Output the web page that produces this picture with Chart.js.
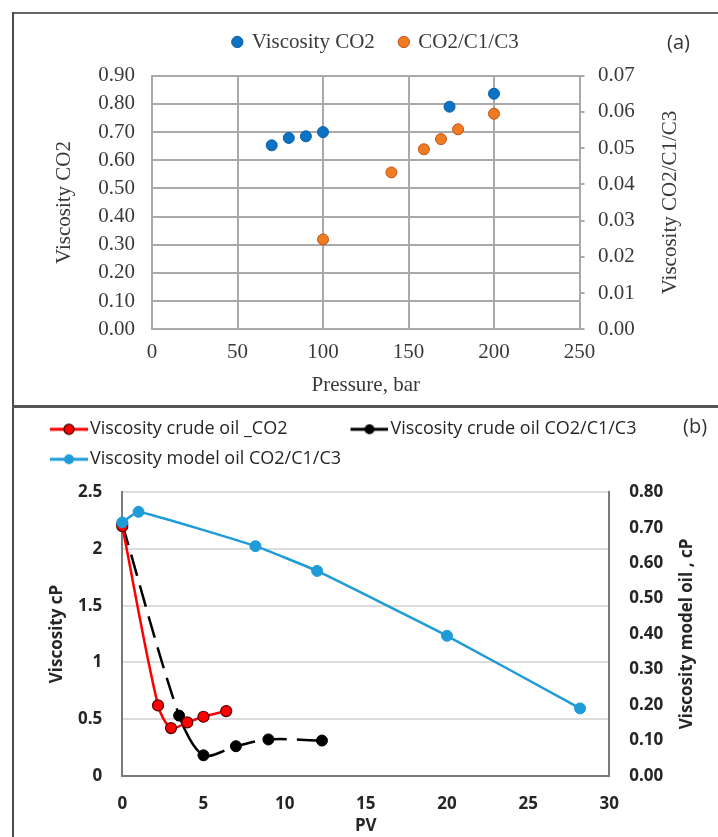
<!DOCTYPE html>
<html>
<head>
<meta charset="utf-8">
<script src="https://cdn.jsdelivr.net/npm/chart.js@4.4.1/dist/chart.umd.min.js"></script>
<style>
  html, body { margin: 0; padding: 0; background: #ffffff; }
  #wrap { position: relative; width: 718px; height: 837px; overflow: hidden; background: #fff; }
  canvas { position: absolute; left: 0; }
  .line { position: absolute; background: #555; }
  .tag { position: absolute; font-family: "Open Sans", sans-serif; font-size: 20px; color: #333; line-height: 1; }
</style>
</head>
<body>
<div id="wrap">
  <canvas id="chartA" width="718" height="405" style="top:0px"></canvas>
  <canvas id="chartB" width="718" height="431" style="top:406px"></canvas>
  <div class="line" style="left:12px; top:12px; width:706px; height:2px; background:#666;"></div>
  <div class="line" style="left:12px; top:12px; width:2px; height:825px; background:#4a4a4a;"></div>
  <div class="line" style="left:12px; top:405px; width:706px; height:3px; background:#555;"></div>
  <div class="tag" style="left:667px; top:32px;">(a)</div>
  <div class="tag" style="left:683px; top:416px;">(b)</div>
</div>
<script>
// ---------- Data (a): viscosity vs pressure ----------
const pressureCO2   = [70, 80, 90, 100, 174, 200];
const viscosityCO2  = [0.653, 0.679, 0.685, 0.700, 0.790, 0.836];
const pressureMix   = [100, 140, 159, 169, 179, 200];
const viscosityMix  = [0.0248, 0.0433, 0.0497, 0.0525, 0.0552, 0.0595];

// ---------- Data (b): viscosity vs PV ----------
const pvCrudeCO2    = [0, 2.2, 3, 4, 5, 6.4];
const viscCrudeCO2  = [2.2, 0.62, 0.42, 0.47, 0.52, 0.57];
const pvCrudeMix    = [0, 3.5, 5, 7, 9, 12.3];
const viscCrudeMix  = [2.22, 0.53, 0.18, 0.26, 0.32, 0.31];
const pvModelMix    = [0, 1, 8.2, 12, 20, 28.2];
const viscModelMix  = [0.715, 0.745, 0.648, 0.578, 0.395, 0.19];

const labelsA = ['Viscosity CO2', 'CO2/C1/C3'];
const labelsB = ['Viscosity crude oil _CO2', 'Viscosity crude oil CO2/C1/C3', 'Viscosity model oil CO2/C1/C3'];
const titlesA = { x: 'Pressure, bar', y: 'Viscosity CO2', y1: 'Viscosity CO2/C1/C3' };
const titlesB = { x: 'PV', y: 'Viscosity cP', y1: 'Viscosity model oil , cP' };

const toPoints = (xs, ys) => xs.map((x, i) => ({x: x, y: ys[i]}));

// Plugin: fixes the legend box height and shifts it horizontally
const legendTweak = {
  id: 'legendTweak',
  beforeLayout(chart, args, opts) {
    const lg = chart.legend;
    if (lg && !lg.__fixed) {
      const orig = lg.fit.bind(lg);
      lg.fit = function () { orig(); if (opts && opts.height) this.height = opts.height; };
      lg.__fixed = true;
    }
  },
  afterLayout(chart, args, opts) {
    const lg = chart.legend;
    if (lg && opts && opts.shiftX) { lg.left += opts.shiftX; lg.right += opts.shiftX; }
  }
};

// Plugin: right-hand axis title reading bottom-to-top
const sideTitle = {
  id: 'sideTitle',
  afterDraw(chart, args, opts) {
    if (!opts || !opts.text) return;
    const {ctx, chartArea} = chart;
    ctx.save();
    ctx.translate(opts.x, (chartArea.top + chartArea.bottom) / 2);
    ctx.rotate(-Math.PI / 2);
    ctx.font = opts.font;
    ctx.fillStyle = opts.color;
    ctx.textAlign = 'center';
    ctx.textBaseline = 'middle';
    ctx.fillText(opts.text, 0, 0);
    ctx.restore();
  }
};

// ---------- Chart (a) ----------
const serif = '"Liberation Serif", "Times New Roman", serif';
const gridGrey = '#a9a9a9';
const txtA = '#3a3a3a';

new Chart(document.getElementById('chartA'), {
  type: 'scatter',
  data: {
    datasets: [
      {
        label: labelsA[0],
        data: toPoints(pressureCO2, viscosityCO2),
        yAxisID: 'y',
        backgroundColor: '#0b72c4',
        borderColor: '#0a5ea6',
        borderWidth: 1,
        pointRadius: 5.5,
        pointStyle: 'circle',
        clip: false
      },
      {
        label: labelsA[1],
        data: toPoints(pressureMix, viscosityMix),
        yAxisID: 'y1',
        backgroundColor: '#ef7b22',
        borderColor: '#c2531a',
        borderWidth: 1,
        pointRadius: 5.5,
        pointStyle: 'circle',
        clip: false
      }
    ]
  },
  options: {
    responsive: false,
    animation: false,
    devicePixelRatio: 1,
    layout: { padding: { top: 6.5, left: 44, right: 0, bottom: 0 } },
    plugins: {
      legendTweak: { height: 69.2, shiftX: -5 },
      sideTitle: { text: titlesA.y1, x: 670, font: '21px ' + serif, color: txtA },
      tooltip: { enabled: false },
      legend: {
        display: true,
        position: 'top',
        align: 'center',
        labels: {
          usePointStyle: true,
          boxWidth: 8,
          boxHeight: 8,
          padding: 25,
          color: txtA,
          font: { family: serif, size: 21 }
        }
      }
    },
    scales: {
      x: {
        type: 'linear',
        min: 0, max: 250,
        afterFit: s => { s.height = 75.7; },
        ticks: { stepSize: 50, autoSkip: false, maxRotation: 0, padding: 11, color: txtA, font: { family: serif, size: 21 } },
        grid: { display: true, color: gridGrey, lineWidth: 2, drawTicks: false },
        border: { display: true, color: gridGrey, width: 2 },
        title: { display: true, text: titlesA.x, color: txtA, font: { family: serif, size: 21 }, padding: { top: 0, bottom: 7.4 } }
      },
      y: {
        type: 'linear',
        position: 'left',
        min: 0, max: 0.9,
        afterFit: s => { s.width = 108; },
        ticks: { stepSize: 0.1, autoSkip: false, padding: 17, color: txtA, font: { family: serif, size: 21 }, callback: v => Number(v).toFixed(2) },
        grid: { display: true, color: gridGrey, lineWidth: 2, drawTicks: false },
        border: { display: true, color: gridGrey, width: 2 },
        title: { display: true, text: titlesA.y, color: txtA, font: { family: serif, size: 21 }, padding: { top: 7.4, bottom: 0 } }
      },
      y1: {
        type: 'linear',
        position: 'right',
        min: 0, max: 0.07,
        afterFit: s => { s.width = 138.5; },
        ticks: { stepSize: 0.01, autoSkip: false, padding: 13.5, color: txtA, font: { family: serif, size: 21 }, callback: v => Number(v).toFixed(2) },
        grid: { display: true, drawOnChartArea: false, drawTicks: true, tickLength: 5, color: gridGrey, lineWidth: 2 },
        border: { display: true, color: gridGrey, width: 2 },
        title: { display: false }
      }
    }
  },
  plugins: [legendTweak, sideTitle]
});

// ---------- Chart (b) ----------
const sans = '"Open Sans", "Noto Sans", sans-serif';
const txtB = '#262626';
const colRed = '#ff0000', colBlack = '#000000', colBlue = '#1f9bd7';

// legend marker: line with a dot, placed at the right of a wide transparent image
function legendMarker(color, border) {
  const c = document.createElement('canvas');
  c.width = 96; c.height = 14;
  const g = c.getContext('2d');
  g.strokeStyle = color; g.lineWidth = 3;
  g.beginPath(); g.moveTo(58, 7); g.lineTo(96, 7); g.stroke();
  g.beginPath(); g.arc(77, 7, 5, 0, Math.PI * 2);
  g.fillStyle = color; g.fill();
  if (border) { g.lineWidth = 1.5; g.strokeStyle = border; g.stroke(); }
  return c;
}
const markers = [legendMarker(colRed, '#550000'), legendMarker(colBlack, null), legendMarker(colBlue, null)];
const fmtB = v => String(Number(Number(v).toFixed(2)));

new Chart(document.getElementById('chartB'), {
  type: 'line',
  data: {
    datasets: [
      {
        label: labelsB[0],
        data: toPoints(pvCrudeCO2, viscCrudeCO2),
        yAxisID: 'y',
        borderColor: colRed,
        backgroundColor: colRed,
        pointBackgroundColor: colRed,
        pointBorderColor: '#550000',
        pointBorderWidth: 1.2,
        pointRadius: 5.5,
        borderWidth: 2.5,
        tension: 0.3,
        fill: false,
        clip: false,
        order: 1
      },
      {
        label: labelsB[1],
        data: toPoints(pvCrudeMix, viscCrudeMix),
        yAxisID: 'y',
        borderColor: colBlack,
        backgroundColor: colBlack,
        pointBackgroundColor: colBlack,
        pointBorderColor: colBlack,
        pointBorderWidth: 1,
        pointRadius: 5.5,
        borderWidth: 2.5,
        tension: 0.3,
        fill: false,
        clip: false,
        order: 2,
        segment: { borderDash: ctx => (ctx.p0DataIndex === 1 ? [] : [22, 10]) }
      },
      {
        label: labelsB[2],
        data: toPoints(pvModelMix, viscModelMix),
        yAxisID: 'y1',
        borderColor: colBlue,
        backgroundColor: colBlue,
        pointBackgroundColor: colBlue,
        pointBorderColor: colBlue,
        pointBorderWidth: 1,
        pointRadius: 5.5,
        borderWidth: 2.5,
        tension: 0.12,
        fill: false,
        clip: false,
        order: 0
      }
    ]
  },
  options: {
    responsive: false,
    animation: false,
    devicePixelRatio: 1,
    layout: { padding: { top: 2.3, left: 0, right: 0, bottom: 0 } },
    plugins: {
      legendTweak: { height: 84, shiftX: -13 },
      sideTitle: { text: titlesB.y1, x: 687, font: 'bold 17px ' + sans, color: txtB },
      tooltip: { enabled: false },
      legend: {
        display: true,
        position: 'top',
        align: 'start',
        labels: {
          usePointStyle: true,
          pointStyleWidth: 82,
          boxHeight: 14,
          padding: 12,
          color: txtB,
          font: { family: sans, size: 18 },
          generateLabels: chart => chart.data.datasets.map((ds, i) => ({
            text: ds.label,
            fillStyle: ds.borderColor,
            strokeStyle: ds.borderColor,
            lineWidth: 0,
            pointStyle: markers[i],
            hidden: false,
            datasetIndex: i,
            fontColor: txtB
          }))
        }
      }
    },
    scales: {
      x: {
        type: 'linear',
        min: 0, max: 30,
        afterFit: s => { s.height = 61.3; },
        ticks: { stepSize: 5, autoSkip: false, maxRotation: 0, padding: 18, color: txtB, font: { family: sans, size: 17, weight: 'bold' } },
        grid: { display: false, drawTicks: false },
        border: { display: true, color: '#7a7a7a', width: 2 },
        title: { display: true, text: titlesB.x, color: txtB, font: { family: sans, size: 17, weight: 'bold' }, padding: { top: 0, bottom: 1 } }
      },
      y: {
        type: 'linear',
        position: 'left',
        min: 0, max: 2.5,
        afterFit: s => { s.width = 122.3; },
        ticks: { stepSize: 0.5, autoSkip: false, padding: 20, color: txtB, font: { family: sans, size: 17, weight: 'bold' }, callback: fmtB },
        grid: { display: true, color: '#dcdcdc', lineWidth: 2, drawTicks: false },
        border: { display: true, color: '#7a7a7a', width: 2 },
        title: { display: true, text: titlesB.y, color: txtB, font: { family: sans, size: 17, weight: 'bold' }, padding: { top: 47, bottom: 0 } }
      },
      y1: {
        type: 'linear',
        position: 'right',
        min: 0, max: 0.8,
        afterFit: s => { s.width = 108.7; },
        ticks: { stepSize: 0.1, autoSkip: false, padding: 20, color: txtB, font: { family: sans, size: 17, weight: 'bold' }, callback: v => Number(v).toFixed(2) },
        grid: { display: false, drawOnChartArea: false, drawTicks: false },
        border: { display: true, color: '#7a7a7a', width: 2 },
        title: { display: false }
      }
    }
  },
  plugins: [legendTweak, sideTitle]
});
</script>
</body>
</html>
